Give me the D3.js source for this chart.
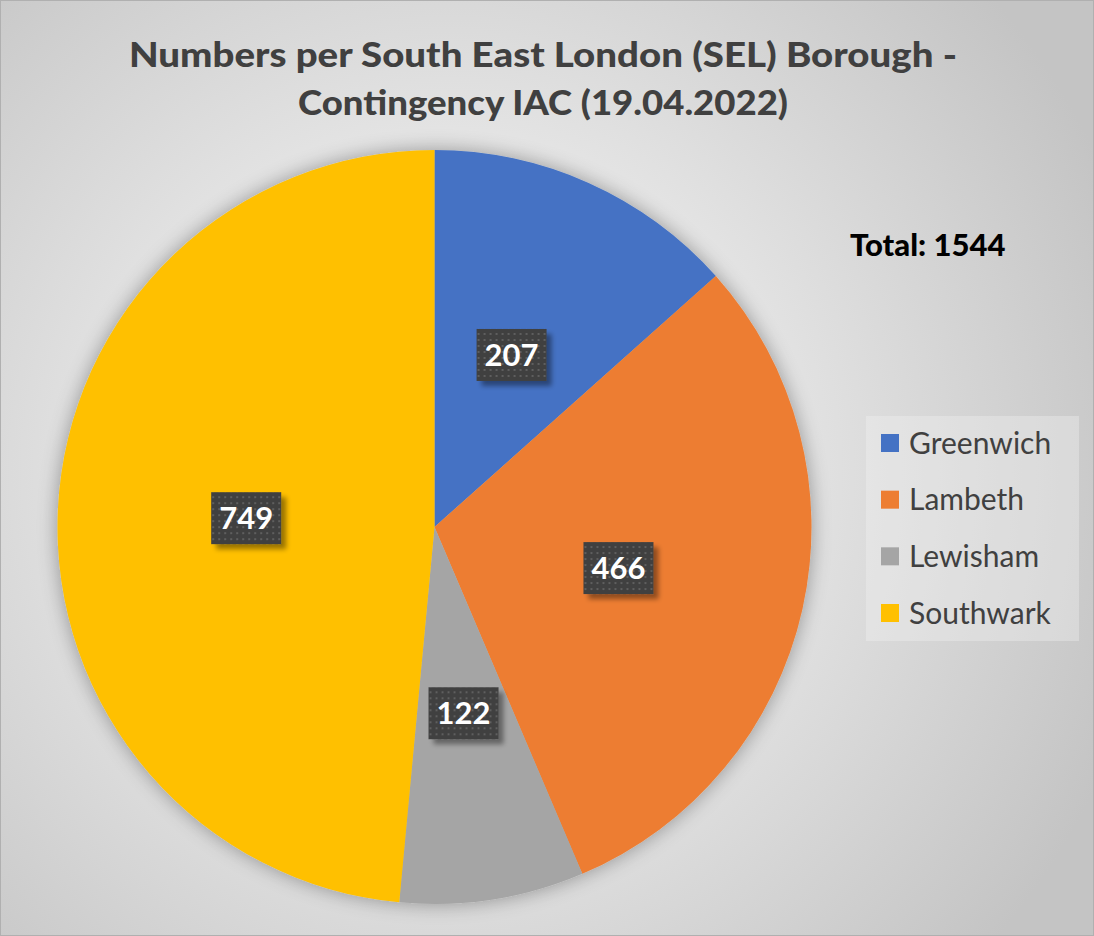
<!DOCTYPE html>
<html>
<head>
<meta charset="utf-8">
<script src="https://cdn.jsdelivr.net/npm/d3@7"></script>
<style>
  html, body { margin: 0; padding: 0; background: #fff; }
  svg { display: block; }
</style>
</head>
<body>
<div id="chart"></div>
<script>
var boroughs = ["Greenwich", "Lambeth", "Lewisham", "Southwark"];
var counts = [207, 466, 122, 749];
var sliceColors = ["#4472C4", "#ED7D31", "#A5A5A5", "#FFC000"];
var titleLines = ["Numbers per South East London (SEL) Borough -", "Contingency IAC (19.04.2022)"];
var totalText = "Total: 1544";

var width = 1094, height = 936;
var cx = 434.5, cy = 527, radius = 377;

var svg = d3.select("#chart").append("svg")
    .attr("width", width)
    .attr("height", height);

var defs = svg.append("defs");

// background gradient
var bg = defs.append("radialGradient")
    .attr("id", "bg")
    .attr("gradientUnits", "userSpaceOnUse")
    .attr("cx", 450).attr("cy", 470).attr("r", 720);
bg.append("stop").attr("offset", "0%").attr("stop-color", "#ffffff");
bg.append("stop").attr("offset", "100%").attr("stop-color", "#c4c4c4");

// soft shadow round the pie
var pieShadow = defs.append("filter")
    .attr("id", "pieShadow")
    .attr("x", "-20%").attr("y", "-20%").attr("width", "140%").attr("height", "140%");
pieShadow.append("feGaussianBlur").attr("in", "SourceAlpha").attr("stdDeviation", 10).attr("result", "blur");
pieShadow.append("feComponentTransfer").attr("in", "blur").attr("result", "sh")
    .append("feFuncA").attr("type", "linear").attr("slope", 0.35);
var m1 = pieShadow.append("feMerge");
m1.append("feMergeNode").attr("in", "sh");
m1.append("feMergeNode").attr("in", "SourceGraphic");

// label box shadow
var boxShadow = defs.append("filter")
    .attr("id", "boxShadow")
    .attr("x", "-30%").attr("y", "-30%").attr("width", "160%").attr("height", "160%");
boxShadow.append("feGaussianBlur").attr("in", "SourceAlpha").attr("stdDeviation", 2.5).attr("result", "blur");
boxShadow.append("feOffset").attr("in", "blur").attr("dx", 5).attr("dy", 5).attr("result", "off");
boxShadow.append("feComponentTransfer").attr("in", "off").attr("result", "sh")
    .append("feFuncA").attr("type", "linear").attr("slope", 0.4);
var m2 = boxShadow.append("feMerge");
m2.append("feMergeNode").attr("in", "sh");
m2.append("feMergeNode").attr("in", "SourceGraphic");

// dotted fill for the labels
var dots = defs.append("pattern")
    .attr("id", "dots")
    .attr("patternUnits", "userSpaceOnUse")
    .attr("width", 6).attr("height", 6);
dots.append("rect").attr("width", 6).attr("height", 6).attr("fill", "#404040");
dots.append("rect").attr("x", 2).attr("y", 2).attr("width", 2).attr("height", 2).attr("fill", "#5e5e5e");

svg.append("rect")
    .attr("x", 0.5).attr("y", 0.5)
    .attr("width", width - 1).attr("height", height - 1)
    .attr("fill", "url(#bg)")
    .attr("stroke", "#b0b0b0")
    .attr("stroke-width", 1);

// title
svg.append("g").selectAll("text")
    .data(titleLines)
    .join("text")
    .attr("x", 543)
    .attr("y", (d, i) => 67 + i * 48)
    .attr("text-anchor", "middle")
    .attr("textLength", (d, i) => i == 0 ? 828 : 490)
    .attr("lengthAdjust", "spacingAndGlyphs")
    .attr("font-family", "Lato, 'Open Sans', sans-serif")
    .attr("font-weight", "900")
    .attr("font-size", 35)
    .attr("fill", "#404040")
    .text(d => d);

// pie
var pie = d3.pie().sort(null).value(d => d);
var arcs = pie(counts);
var arc = d3.arc().innerRadius(0).outerRadius(radius);

var pieG = svg.append("g")
    .attr("transform", `translate(${cx},${cy})`);

pieG.append("g")
    .attr("filter", "url(#pieShadow)")
    .selectAll("path")
    .data(arcs)
    .join("path")
    .attr("d", arc)
    .attr("fill", (d, i) => sliceColors[i]);

// value labels
var labels = pieG.append("g")
    .selectAll("g")
    .data(arcs)
    .join("g")
    .attr("transform", d => `translate(${arc.centroid(d)})`);

labels.append("rect")
    .attr("x", -35).attr("y", -26)
    .attr("width", 70).attr("height", 52)
    .attr("fill", "url(#dots)")
    .attr("filter", "url(#boxShadow)");

labels.append("text")
    .attr("text-anchor", "middle")
    .attr("dy", "0.36em")
    .attr("font-family", "Lato, 'Open Sans', sans-serif")
    .attr("font-weight", "bold")
    .attr("font-size", 31)
    .attr("fill", "#ffffff")
    .text(d => d.data);

// total
svg.append("text")
    .attr("x", 850).attr("y", 256)
    .attr("font-family", "Lato, 'Open Sans', sans-serif")
    .attr("font-weight", "900")
    .attr("font-size", 31)
    .attr("fill", "#000000")
    .text(totalText);

// legend
var legend = svg.append("g");
legend.append("rect")
    .attr("x", 866).attr("y", 416)
    .attr("width", 213).attr("height", 225)
    .attr("fill", "#f4f4f4")
    .attr("fill-opacity", 0.35);

var legendY = d3.scalePoint().domain(boroughs).range([443, 613]);

var items = legend.selectAll("g.item")
    .data(boroughs)
    .join("g")
    .attr("class", "item")
    .attr("transform", d => `translate(881,${legendY(d)})`);

items.append("rect")
    .attr("x", 0).attr("y", -9)
    .attr("width", 18).attr("height", 18)
    .attr("fill", (d, i) => sliceColors[i]);

items.append("text")
    .attr("x", 28)
    .attr("dy", "0.36em")
    .attr("font-family", "Lato, 'Open Sans', sans-serif")
    .attr("font-size", 30)
    .attr("fill", "#404040")
    .text(d => d);
</script>
</body>
</html>
